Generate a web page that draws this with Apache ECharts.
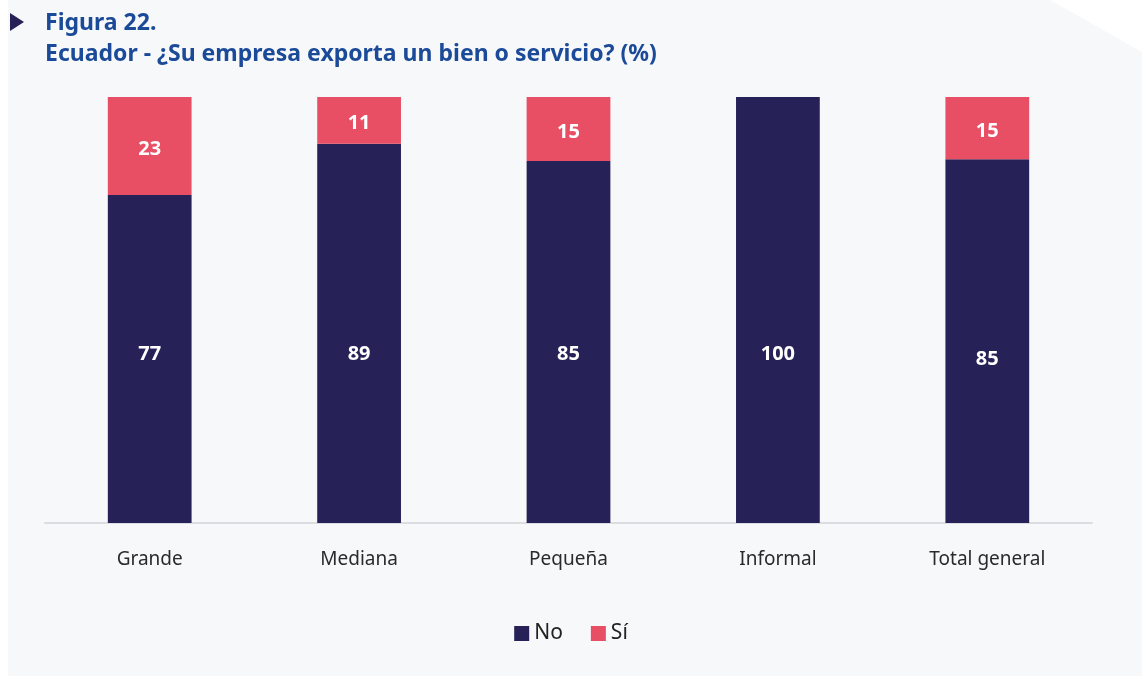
<!DOCTYPE html>
<html>
<head>
<meta charset="utf-8">
<style>
    html, body { margin: 0; padding: 0; background: #ffffff; }
    #chart { width: 1142px; height: 677px; }
</style>
<script src="https://cdn.jsdelivr.net/npm/echarts@6/dist/echarts.min.js"></script>
</head>
<body>
<div id="chart"></div>
<script>
    // datos de la figura
    const categorias = ['Grande', 'Mediana', 'Pequeña', 'Informal', 'Total general']
    const valoresNo = [77, 89, 85, 100, 85.4]
    const valoresSi = [23, 11, 15, 0, 14.6]

    const azul = '#262157'
    const rosa = '#e94f64'

    const chart = echarts.init(document.getElementById('chart'))

    const option = {
        backgroundColor: 'transparent',
        textStyle: { fontFamily: 'Noto Sans' },
        graphic: [
            // panel gris de fondo
            { type: 'rect', z: -10, shape: { x: 8, y: 0, width: 1134, height: 676 }, style: { fill: '#f7f8fa' } },
            // esquina cortada
            { type: 'polygon', z: -9, shape: { points: [[1050, 0], [1142, 0], [1142, 52]] }, style: { fill: '#ffffff' } },
            // triangulo del titulo
            { type: 'polygon', shape: { points: [[10, 13], [24, 22], [10, 31]] }, style: { fill: azul } }
        ],
        title: {
            left: 40,
            top: 3,
            text: 'Figura 22.\nEcuador - ¿Su empresa exporta un bien o servicio? (%)',
            textStyle: {
                fontFamily: 'Noto Sans',
                fontSize: 23,
                fontWeight: 'bold',
                color: '#1b4a98',
                lineHeight: 31
            }
        },
        legend: {
            bottom: 28,
            left: 'center',
            itemWidth: 15,
            itemHeight: 15,
            itemGap: 28,
            icon: 'rect',
            textStyle: { fontSize: 21, color: '#222', fontFamily: 'Noto Sans' },
            data: ['No', 'Sí']
        },
        grid: {
            left: 45,
            right: 50,
            top: 97,
            bottom: 154,
            containLabel: false
        },
        xAxis: {
            type: 'category',
            data: categorias,
            axisLine: { lineStyle: { color: '#dcdde0', width: 2 } },
            axisTick: { show: false },
            axisLabel: { color: '#2a2a2a', fontSize: 19, margin: 27, fontFamily: 'Noto Sans' }
        },
        yAxis: {
            type: 'value',
            min: 0,
            max: 100,
            show: false
        },
        series: [
            {
                name: 'No',
                type: 'bar',
                stack: 'total',
                barWidth: '40%',
                itemStyle: { color: azul },
                label: {
                    show: true,
                    position: 'insideBottom',
                    distance: 159,
                    color: '#fff',
                    fontSize: 20,
                    fontWeight: 'bold',
                    formatter: p => Math.round(p.value)
                },
                data: valoresNo.map((v, i) => i === valoresNo.length - 1
                    ? { value: v, label: { distance: 154 } }
                    : v)
            },
            {
                name: 'Sí',
                type: 'bar',
                stack: 'total',
                barWidth: '40%',
                itemStyle: { color: rosa },
                label: {
                    show: true,
                    position: 'inside',
                    offset: [0, 3],
                    color: '#fff',
                    fontSize: 20,
                    fontWeight: 'bold',
                    formatter: p => p.value > 0 ? Math.round(p.value) : ''
                },
                data: valoresSi
            }
        ]
    }

    chart.setOption(option)
</script>
</body>
</html>
